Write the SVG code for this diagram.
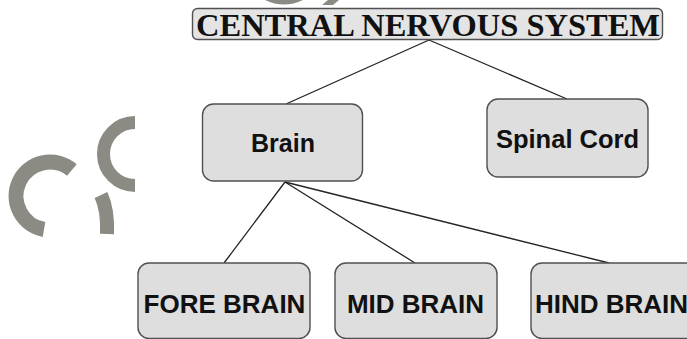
<svg xmlns="http://www.w3.org/2000/svg" width="687" height="339" viewBox="0 0 687 339">
<style>
.box{fill:#dedede;stroke:#505050;stroke-width:1.4}
.lbl{font-family:"Liberation Sans",Arial,sans-serif;font-weight:bold;fill:#111;text-anchor:middle}
.title{font-family:"Liberation Serif","Times New Roman",serif;font-weight:bold;fill:#111;font-size:32px;text-anchor:middle}
.wm{fill:none;stroke:#8b8a83}
.conn line{stroke:#222;stroke-width:1.3}
</style>
<rect width="687" height="339" fill="#ffffff"/>
<g id="watermark">
<path class="wm" stroke-width="15" d="M 71.9 170 A 34 34 0 1 0 44 229.5"/>
<path class="wm" stroke-width="13" d="M 135 122.5 A 31.5 31.5 0 0 0 135 185.5"/>
<path class="wm" stroke-width="14" d="M 101 195 Q 108 210 107 234"/>
<path d="M 265 0 Q 284 9 303 0 Z" fill="#8b8a83"/>
<path d="M 328 0 L 339 0 L 333 5 L 322 5 Z" fill="#8b8a83"/>
</g>
<g class="conn" id="connectors">
<line x1="429" y1="40" x2="286" y2="104"/>
<line x1="429" y1="40" x2="567" y2="99"/>
<line x1="285" y1="182" x2="224" y2="263"/>
<line x1="285" y1="182" x2="415" y2="263"/>
<line x1="285" y1="182" x2="609" y2="263"/>
</g>
<g id="cns">
<rect class="box" x="192.5" y="8.5" width="470" height="31" rx="5" style="fill:#e4e4e4"/>
<text class="title" x="428" y="36" textLength="464" lengthAdjust="spacingAndGlyphs">CENTRAL NERVOUS SYSTEM</text>
</g>
<g id="brain">
<rect class="box" x="202.5" y="104" width="160" height="77" rx="11"/>
<text class="lbl" x="283" y="152" font-size="25">Brain</text>
</g>
<g id="spinal">
<rect class="box" x="487" y="99" width="161" height="78" rx="11"/>
<text class="lbl" x="567.5" y="148" font-size="25.5">Spinal Cord</text>
</g>
<g id="fore">
<rect class="box" x="138" y="263" width="172" height="75.5" rx="11"/>
<text class="lbl" x="224.5" y="313" font-size="26">FORE BRAIN</text>
</g>
<g id="mid">
<rect class="box" x="335" y="263" width="162" height="75.5" rx="11"/>
<text class="lbl" x="415.5" y="313" font-size="26">MID BRAIN</text>
</g>
<g id="hind">
<rect class="box" x="531" y="263" width="180" height="75.5" rx="11"/>
<text class="lbl" x="535" y="313" font-size="26" style="text-anchor:start">HIND BRAIN</text>
</g>
</svg>
